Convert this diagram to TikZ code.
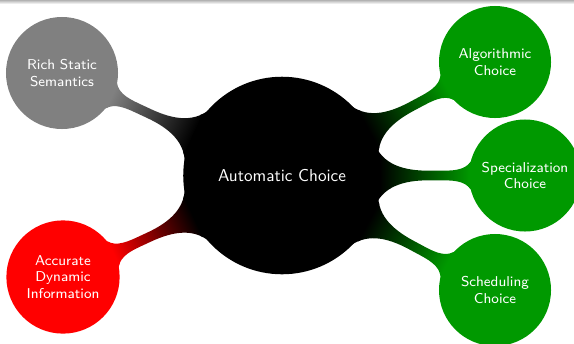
\documentclass[tikz,border=0pt]{standalone}
\usepackage{tikz}
\usetikzlibrary{mindmap,shadings}

\begin{document}
\begin{tikzpicture}[
            x=0.02046cm,
            y=-0.02046cm,
            mindmap,
            rootconcept/.style={
                    concept,
                    concept color=black,
                    minimum size=4cm,
                    text width=3.5cm,
                    text=white,
                    font=\sffamily\normalsize
                },
            leafconcept/.style={
                    concept,
                    minimum size=2.25cm,
                    text width=2cm,
                    text=white,
                    font=\sffamily\fontsize{8.3}{9.5}\selectfont
                }
        ]

        \useasboundingbox (0,0) rectangle (574,343);

        % top edge
        \shade[top color=gray!60, bottom color=white] (0,0) rectangle (574,4);

        % Root
        \node[rootconcept] (root) at (282,175.5) {Automatic Choice};

        % Left side
        \node[leafconcept, concept color=gray] (static) at (62,73) {Rich Static\\Semantics};
        \node[leafconcept, concept color=red] (dynamic) at (63,277) {Accurate\\Dynamic\\Information};

        % Right side
        \node[leafconcept, concept color=green!60!black] (algo) at (495,62) {Algorithmic\\Choice};
        \node[leafconcept, concept color=green!60!black] (special) at (525,175.5) {Specialization\\Choice};
        \node[leafconcept, concept color=green!60!black] (sched) at (495,290) {Scheduling\\Choice};

        % Connections
        \path (root) to[circle connection bar switch color=from (black) to (gray)] (static);
        \path (root) to[circle connection bar switch color=from (black) to (red)] (dynamic);
        \path (root) to[circle connection bar switch color=from (black) to (green!60!black)] (algo);
        \path (root) to[circle connection bar switch color=from (black) to (green!60!black)] (special);
        \path (root) to[circle connection bar switch color=from (black) to (green!60!black)] (sched);

    \end{tikzpicture}
\end{document}
